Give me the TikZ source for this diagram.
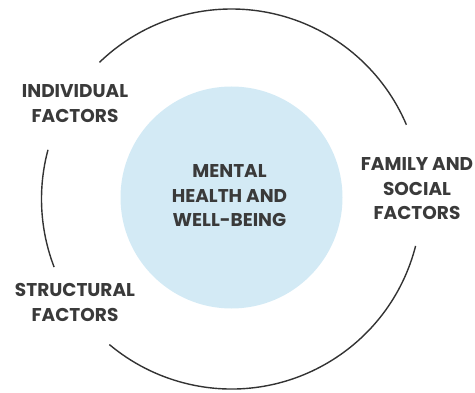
\documentclass[tikz,border=0pt]{standalone}
\usepackage{fontspec}
\setmainfont{Poppins}
\definecolor{txt}{HTML}{3A3A3A}
\definecolor{arcc}{HTML}{333333}
\definecolor{blue}{HTML}{D3EAF5}
\begin{document}
\begin{tikzpicture}[x=1pt,y=1pt,
  lbl/.style={font=\bfseries\fontsize{18.5}{24.5}\selectfont, text=txt, align=center, inner sep=0pt},
  ring/.style={draw=arcc, line width=1.4pt}]
\useasboundingbox (0,0) rectangle (475,392);
\coordinate (c) at (231.5,193);
\node[circle, fill=blue, minimum size=222pt, inner sep=0pt] (core) at (231.5,194.5) {};
\node[lbl] (m) at (229.5,196) {MENTAL\\HEALTH AND\\WELL-BEING};
\node[lbl] (ind) at (75,288.5) {INDIVIDUAL\\FACTORS};
\node[lbl] (fam) at (417,203) {FAMILY AND\\SOCIAL\\FACTORS};
\node[lbl] (str) at (75,89.5) {STRUCTURAL\\FACTORS};
\draw[ring] ([shift={(134:190)}]c) arc[start angle=134, end angle=23, radius=190];
\draw[ring] ([shift={(-14.3:190)}]c) arc[start angle=-14.3, end angle=-130, radius=190];
\draw[ring] ([shift={(165:190)}]c) arc[start angle=165, end angle=201, radius=190];
\end{tikzpicture}
\end{document}
